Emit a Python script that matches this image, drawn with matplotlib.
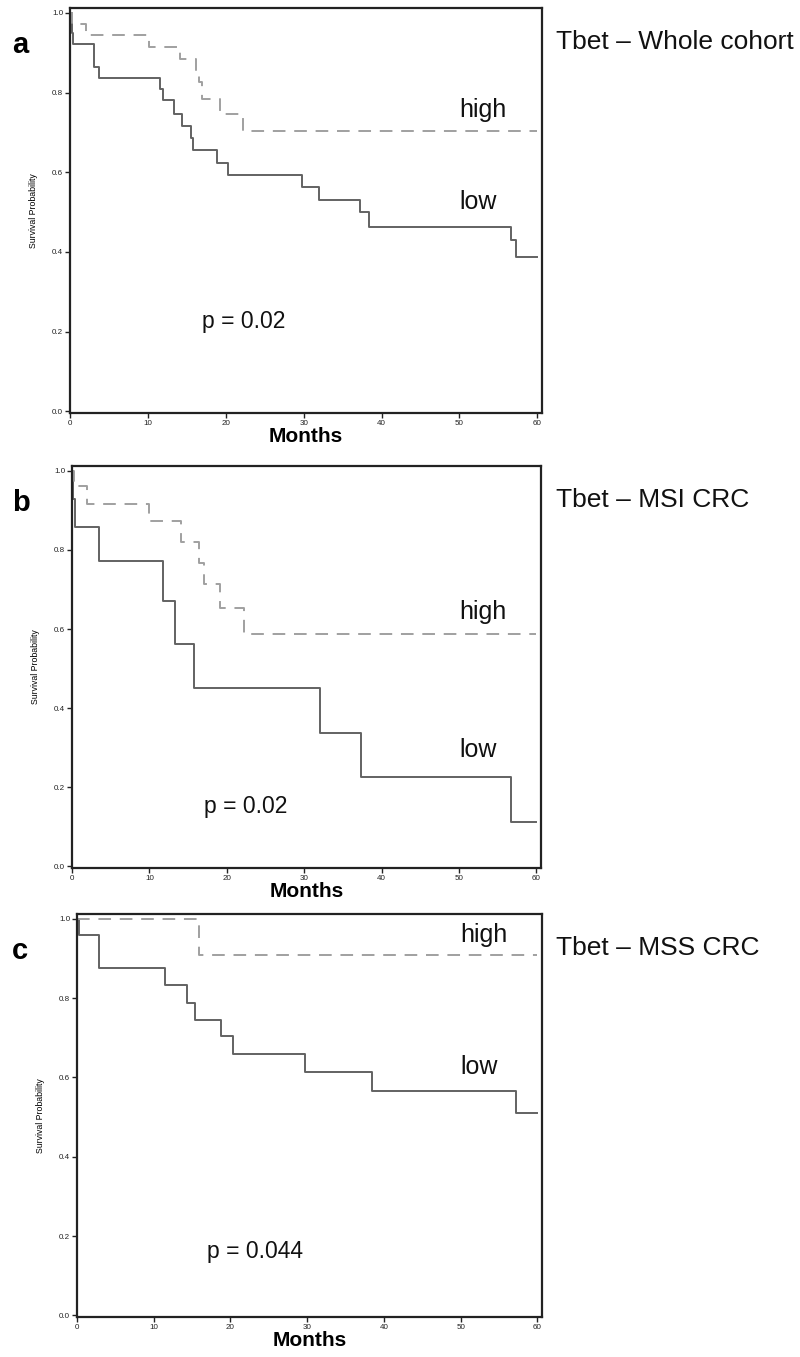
"""
Kaplan-Meier curves for Tbet high/low expression: whole cohort, MSI and MSS CRC.
"""
import matplotlib
matplotlib.use("Agg")
import matplotlib.pyplot as plt

plt.rcParams["font.family"] = ["Liberation Sans", "DejaVu Sans"]

# ----------------------------- data -----------------------------
# (a) whole cohort
a_high_t = [0, 0.3, 2.1, 10.1, 14.1, 16.2, 16.5, 17.0, 19.2, 22.2, 60]
a_high_s = [1.0, 0.971, 0.944, 0.915, 0.884, 0.855, 0.826, 0.783, 0.745, 0.703, 0.703]
a_low_t = [0, 0.2, 0.4, 3.1, 3.7, 11.6, 11.9, 13.4, 14.4, 15.5, 15.8, 18.9, 20.3,
           29.8, 32.0, 37.2, 38.4, 56.6, 57.2, 60]
a_low_s = [1.0, 0.95, 0.922, 0.865, 0.837, 0.809, 0.780, 0.747, 0.715, 0.686, 0.655,
           0.623, 0.593, 0.562, 0.530, 0.500, 0.463, 0.430, 0.388, 0.388]

# (b) MSI CRC
b_high_t = [0, 0.3, 2.0, 9.9, 14.1, 16.4, 17.0, 19.1, 22.2, 60]
b_high_s = [1.0, 0.962, 0.916, 0.872, 0.821, 0.766, 0.713, 0.654, 0.588, 0.588]
b_low_t = [0, 0.1, 0.4, 3.5, 11.8, 13.3, 15.7, 32.0, 37.3, 56.7, 60]
b_low_s = [1.0, 0.929, 0.857, 0.771, 0.672, 0.563, 0.450, 0.338, 0.225, 0.111, 0.111]

# (c) MSS CRC
c_high_t = [0, 15.9, 60]
c_high_s = [1.0, 0.908, 0.908]
c_low_t = [0, 0.2, 2.9, 11.5, 14.3, 15.4, 18.75, 20.3, 29.7, 38.5, 57.2, 60]
c_low_s = [1.0, 0.960, 0.876, 0.832, 0.788, 0.746, 0.704, 0.659, 0.613, 0.566, 0.510, 0.510]

panel_letters = ["a", "b", "c"]
titles = ["Tbet – Whole cohort", "Tbet – MSI CRC", "Tbet – MSS CRC"]
p_texts = ["p = 0.02", "p = 0.02", "p = 0.044"]
high_label_y = [0.755, 0.643, 0.960]
low_label_y = [0.525, 0.294, 0.627]
p_label_y = [0.225, 0.151, 0.160]

x_ticks = [0, 10, 20, 30, 40, 50, 60]
y_ticks = [0.0, 0.2, 0.4, 0.6, 0.8, 1.0]
y_tick_labels = ["0.0", "0.2", "0.4", "0.6", "0.8", "1.0"]

SOLID = "#626262"
DASHED = "#a0a0a0"

fig = plt.figure(figsize=(8.0, 13.57), dpi=100)
W, H = 800.0, 1357.0

# axes rectangles in pixel coordinates: left, top, right, bottom
rects_px = [(70, 8, 542, 413), (72, 466, 541, 868), (77, 914, 542, 1317)]

curves = [(a_high_t, a_high_s, a_low_t, a_low_s),
          (b_high_t, b_high_s, b_low_t, b_low_s),
          (c_high_t, c_high_s, c_low_t, c_low_s)]

for i, (l, t, r, b) in enumerate(rects_px):
    ax = fig.add_axes([l / W, 1 - b / H, (r - l) / W, (b - t) / H])
    ht, hs, lt, ls = curves[i]
    ax.step(lt, ls, where="post", color=SOLID, lw=1.4)
    ax.step(ht, hs, where="post", color=DASHED, lw=1.4, dashes=(6.5, 4.5))

    ax.set_xlim(0, 60.6)
    ax.set_ylim(-0.004, 1.012)
    ax.set_xticks(x_ticks)
    ax.set_yticks(y_ticks)
    ax.set_yticklabels(y_tick_labels)
    ax.tick_params(direction="out", length=3.5, width=1.0, labelsize=5.8, pad=1.5,
                   colors="#222222")
    for sp in ax.spines.values():
        sp.set_linewidth(1.6)
        sp.set_color("#222222")

    ax.set_ylabel("Survival Probability", fontsize=6.3, labelpad=10)
    ax.set_xlabel("Months", fontsize=15, fontweight="bold", labelpad=0)

    ax.text(50, high_label_y[i], "high", fontsize=18, ha="left", va="center", color="#111111")
    ax.text(50, low_label_y[i], "low", fontsize=18, ha="left", va="center", color="#111111")
    ax.text(17, p_label_y[i], p_texts[i], fontsize=16.5, ha="left", va="center", color="#111111")

    # panel letter and title to the left / right of the axes
    fig.text(12 / W, 1 - (t + 37) / H, panel_letters[i], fontsize=21, fontweight="bold",
             ha="left", va="center")
    fig.text(556 / W, 1 - (t + 34) / H, titles[i], fontsize=19, ha="left", va="center",
             color="#111111")

fig.savefig("out.png", dpi=100)
